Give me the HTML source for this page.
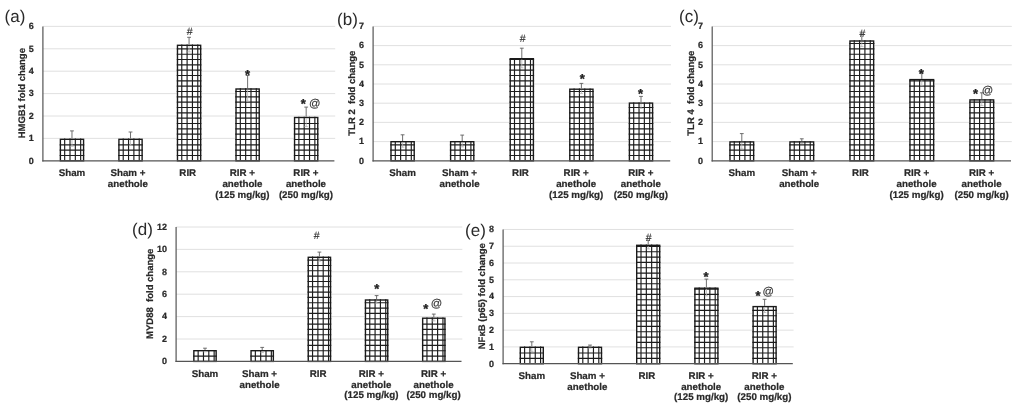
<!DOCTYPE html>
<html><head><meta charset="utf-8"><title>Figure</title>
<style>
html,body{margin:0;padding:0;background:#fff}
svg{display:block}
text{text-rendering:geometricPrecision}
.t,.k,.y{stroke:#2a2a2a;stroke-width:0.22px}
.st{stroke:#222;stroke-width:0.35px}
.s,.at{stroke:#333;stroke-width:0.15px}
.t{font-family:"Liberation Sans",sans-serif;font-weight:bold;font-size:9.75px;fill:#2a2a2a}
.k{font-family:"Liberation Sans",sans-serif;font-weight:bold;font-size:9.0px;fill:#2a2a2a}
.y{font-family:"Liberation Sans",sans-serif;font-weight:bold;font-size:9.5px;fill:#2a2a2a}
.s{font-family:"Liberation Sans",sans-serif;font-size:10.5px;fill:#333}
.at{font-family:"Liberation Sans",sans-serif;font-size:11.3px;fill:#333}
.st{font-family:"Liberation Sans",sans-serif;font-weight:bold;font-size:13px;fill:#222}
.p{font-family:"Liberation Sans",sans-serif;font-size:17px;fill:#2a2a2a}
</style></head><body>
<svg width="1025" height="414" viewBox="0 0 1025 414">
<rect width="1025" height="414" fill="#fff"/>
<g id="chart-a">
<line x1="42.9" x2="335.2" y1="138.40" y2="138.40" stroke="#dcdcdc" stroke-width="0.9"/>
<line x1="42.9" x2="335.2" y1="116.00" y2="116.00" stroke="#dcdcdc" stroke-width="0.9"/>
<line x1="42.9" x2="335.2" y1="93.60" y2="93.60" stroke="#dcdcdc" stroke-width="0.9"/>
<line x1="42.9" x2="335.2" y1="71.20" y2="71.20" stroke="#dcdcdc" stroke-width="0.9"/>
<line x1="42.9" x2="335.2" y1="48.80" y2="48.80" stroke="#dcdcdc" stroke-width="0.9"/>
<line x1="42.9" x2="335.2" y1="26.40" y2="26.40" stroke="#dcdcdc" stroke-width="0.9"/>
<text x="33.8" y="163.60" text-anchor="end" class="k">0</text>
<text x="33.8" y="141.20" text-anchor="end" class="k">1</text>
<text x="33.8" y="118.80" text-anchor="end" class="k">2</text>
<text x="33.8" y="96.40" text-anchor="end" class="k">3</text>
<text x="33.8" y="74.00" text-anchor="end" class="k">4</text>
<text x="33.8" y="51.60" text-anchor="end" class="k">5</text>
<text x="33.8" y="29.20" text-anchor="end" class="k">6</text>
<rect x="59.67" y="138.60" width="24.60" height="22.20" fill="#fff"/>
<path d="M64.67 138.60V160.80M70.00 138.60V160.80M75.33 138.60V160.80M80.66 138.60V160.80M59.67 155.47H84.28M59.67 150.14H84.28M59.67 144.81H84.28" stroke="#1c1c1c" stroke-width="1.15" fill="none"/>
<rect x="60.38" y="139.30" width="23.20" height="21.50" fill="none" stroke="#1a1a1a" stroke-width="1.4"/>
<path d="M71.97 130.90V138.60M70.07 130.90H73.88" stroke="#606060" stroke-width="0.9" fill="none"/>
<path d="M71.97 140.00V146.30M70.27 146.30H73.67" stroke="#b5b5b5" stroke-width="0.8" fill="none"/>
<rect x="118.22" y="138.60" width="24.60" height="22.20" fill="#fff"/>
<path d="M123.22 138.60V160.80M128.55 138.60V160.80M133.88 138.60V160.80M139.22 138.60V160.80M118.22 155.47H142.82M118.22 150.14H142.82M118.22 144.81H142.82" stroke="#1c1c1c" stroke-width="1.15" fill="none"/>
<rect x="118.92" y="139.30" width="23.20" height="21.50" fill="none" stroke="#1a1a1a" stroke-width="1.4"/>
<path d="M130.52 132.00V138.60M128.62 132.00H132.42" stroke="#606060" stroke-width="0.9" fill="none"/>
<path d="M130.52 140.00V145.20M128.82 145.20H132.22" stroke="#b5b5b5" stroke-width="0.8" fill="none"/>
<rect x="176.77" y="44.60" width="24.60" height="116.20" fill="#fff"/>
<path d="M181.77 44.60V160.80M187.10 44.60V160.80M192.44 44.60V160.80M197.77 44.60V160.80M176.77 155.47H201.37M176.77 150.14H201.37M176.77 144.81H201.37M176.77 139.48H201.37M176.77 134.15H201.37M176.77 128.82H201.37M176.77 123.49H201.37M176.77 118.16H201.37M176.77 112.83H201.37M176.77 107.50H201.37M176.77 102.17H201.37M176.77 96.84H201.37M176.77 91.51H201.37M176.77 86.18H201.37M176.77 80.85H201.37M176.77 75.52H201.37M176.77 70.19H201.37M176.77 64.86H201.37M176.77 59.53H201.37M176.77 54.20H201.37M176.77 48.87H201.37" stroke="#1c1c1c" stroke-width="1.15" fill="none"/>
<rect x="177.47" y="45.30" width="23.20" height="115.50" fill="none" stroke="#1a1a1a" stroke-width="1.4"/>
<path d="M189.07 37.30V44.60M187.17 37.30H190.97" stroke="#606060" stroke-width="0.9" fill="none"/>
<path d="M189.07 46.00V51.90M187.38 51.90H190.77" stroke="#b5b5b5" stroke-width="0.8" fill="none"/>
<rect x="235.32" y="88.30" width="24.60" height="72.50" fill="#fff"/>
<path d="M240.32 88.30V160.80M245.66 88.30V160.80M250.99 88.30V160.80M256.31 88.30V160.80M235.32 155.47H259.93M235.32 150.14H259.93M235.32 144.81H259.93M235.32 139.48H259.93M235.32 134.15H259.93M235.32 128.82H259.93M235.32 123.49H259.93M235.32 118.16H259.93M235.32 112.83H259.93M235.32 107.50H259.93M235.32 102.17H259.93M235.32 96.84H259.93M235.32 91.51H259.93" stroke="#1c1c1c" stroke-width="1.15" fill="none"/>
<rect x="236.02" y="89.00" width="23.20" height="71.80" fill="none" stroke="#1a1a1a" stroke-width="1.4"/>
<path d="M247.62 75.50V88.30M245.72 75.50H249.53" stroke="#606060" stroke-width="0.9" fill="none"/>
<path d="M247.62 89.70V101.10M245.93 101.10H249.32" stroke="#b5b5b5" stroke-width="0.8" fill="none"/>
<rect x="293.87" y="116.80" width="24.60" height="44.00" fill="#fff"/>
<path d="M298.87 116.80V160.80M304.20 116.80V160.80M309.53 116.80V160.80M314.86 116.80V160.80M293.87 155.47H318.47M293.87 150.14H318.47M293.87 144.81H318.47M293.87 139.48H318.47M293.87 134.15H318.47M293.87 128.82H318.47M293.87 123.49H318.47" stroke="#1c1c1c" stroke-width="1.15" fill="none"/>
<rect x="294.57" y="117.50" width="23.20" height="43.30" fill="none" stroke="#1a1a1a" stroke-width="1.4"/>
<path d="M306.17 107.10V116.80M304.27 107.10H308.07" stroke="#606060" stroke-width="0.9" fill="none"/>
<path d="M306.17 118.20V126.50M304.47 126.50H307.87" stroke="#b5b5b5" stroke-width="0.8" fill="none"/>
<text x="189.60" y="34.90" text-anchor="middle" class="s">#</text>
<text x="247.55" y="78.65" text-anchor="middle" class="st">*</text>
<text x="303.40" y="108.05" text-anchor="middle" class="st">*</text>
<text x="314.70" y="106.90" text-anchor="middle" class="at">@</text>
<line x1="42.9" x2="42.9" y1="26.40" y2="161.40" stroke="#555555" stroke-width="1.2"/>
<line x1="42.3" x2="334.4" y1="160.80" y2="160.80" stroke="#555555" stroke-width="1.2"/>
<text x="71.97" y="175.90" text-anchor="middle" class="t">Sham</text>
<text x="127.92" y="175.90" text-anchor="middle" class="t">Sham +</text>
<text x="127.92" y="187.40" text-anchor="middle" class="t">anethole</text>
<text x="187.77" y="175.90" text-anchor="middle" class="t">RIR</text>
<text x="242.43" y="175.90" text-anchor="middle" class="t">RIR +</text>
<text x="242.43" y="187.40" text-anchor="middle" class="t">anethole</text>
<text x="242.43" y="197.50" text-anchor="middle" class="t">(125 mg/kg)</text>
<text x="305.97" y="175.90" text-anchor="middle" class="t">RIR +</text>
<text x="305.97" y="187.40" text-anchor="middle" class="t">anethole</text>
<text x="305.97" y="197.50" text-anchor="middle" class="t">(250 mg/kg)</text>
<text transform="translate(25.2 93.2) rotate(-90)" text-anchor="middle" class="y" xml:space="preserve">HMGB1 fold change</text>
<text x="4.60" y="22.00" class="p">(a)</text>
</g>
<g id="chart-b">
<line x1="373.1" x2="671.0" y1="141.60" y2="141.60" stroke="#dcdcdc" stroke-width="0.9"/>
<line x1="373.1" x2="671.0" y1="122.40" y2="122.40" stroke="#dcdcdc" stroke-width="0.9"/>
<line x1="373.1" x2="671.0" y1="103.20" y2="103.20" stroke="#dcdcdc" stroke-width="0.9"/>
<line x1="373.1" x2="671.0" y1="84.00" y2="84.00" stroke="#dcdcdc" stroke-width="0.9"/>
<line x1="373.1" x2="671.0" y1="64.80" y2="64.80" stroke="#dcdcdc" stroke-width="0.9"/>
<line x1="373.1" x2="671.0" y1="45.60" y2="45.60" stroke="#dcdcdc" stroke-width="0.9"/>
<line x1="373.1" x2="671.0" y1="26.40" y2="26.40" stroke="#dcdcdc" stroke-width="0.9"/>
<text x="364.0" y="163.60" text-anchor="end" class="k">0</text>
<text x="364.0" y="144.40" text-anchor="end" class="k">1</text>
<text x="364.0" y="125.20" text-anchor="end" class="k">2</text>
<text x="364.0" y="106.00" text-anchor="end" class="k">3</text>
<text x="364.0" y="86.80" text-anchor="end" class="k">4</text>
<text x="364.0" y="67.60" text-anchor="end" class="k">5</text>
<text x="364.0" y="48.40" text-anchor="end" class="k">6</text>
<text x="364.0" y="29.20" text-anchor="end" class="k">7</text>
<rect x="390.30" y="141.00" width="24.60" height="19.80" fill="#fff"/>
<path d="M395.30 141.00V160.80M400.63 141.00V160.80M405.96 141.00V160.80M411.29 141.00V160.80M390.30 155.47H414.90M390.30 150.14H414.90M390.30 144.81H414.90" stroke="#1c1c1c" stroke-width="1.15" fill="none"/>
<rect x="391.00" y="141.70" width="23.20" height="19.10" fill="none" stroke="#1a1a1a" stroke-width="1.4"/>
<path d="M402.60 134.80V141.00M400.70 134.80H404.50" stroke="#606060" stroke-width="0.9" fill="none"/>
<path d="M402.60 142.40V147.20M400.90 147.20H404.30" stroke="#b5b5b5" stroke-width="0.8" fill="none"/>
<rect x="449.90" y="141.00" width="24.60" height="19.80" fill="#fff"/>
<path d="M454.90 141.00V160.80M460.23 141.00V160.80M465.56 141.00V160.80M470.89 141.00V160.80M449.90 155.47H474.50M449.90 150.14H474.50M449.90 144.81H474.50" stroke="#1c1c1c" stroke-width="1.15" fill="none"/>
<rect x="450.60" y="141.70" width="23.20" height="19.10" fill="none" stroke="#1a1a1a" stroke-width="1.4"/>
<path d="M462.20 135.10V141.00M460.30 135.10H464.10" stroke="#606060" stroke-width="0.9" fill="none"/>
<path d="M462.20 142.40V146.90M460.50 146.90H463.90" stroke="#b5b5b5" stroke-width="0.8" fill="none"/>
<rect x="509.50" y="58.00" width="24.60" height="102.80" fill="#fff"/>
<path d="M514.50 58.00V160.80M519.83 58.00V160.80M525.16 58.00V160.80M530.49 58.00V160.80M509.50 155.47H534.10M509.50 150.14H534.10M509.50 144.81H534.10M509.50 139.48H534.10M509.50 134.15H534.10M509.50 128.82H534.10M509.50 123.49H534.10M509.50 118.16H534.10M509.50 112.83H534.10M509.50 107.50H534.10M509.50 102.17H534.10M509.50 96.84H534.10M509.50 91.51H534.10M509.50 86.18H534.10M509.50 80.85H534.10M509.50 75.52H534.10M509.50 70.19H534.10M509.50 64.86H534.10M509.50 59.53H534.10" stroke="#1c1c1c" stroke-width="1.15" fill="none"/>
<rect x="510.20" y="58.70" width="23.20" height="102.10" fill="none" stroke="#1a1a1a" stroke-width="1.4"/>
<path d="M521.80 48.20V58.00M519.90 48.20H523.70" stroke="#606060" stroke-width="0.9" fill="none"/>
<path d="M521.80 59.40V67.80M520.10 67.80H523.50" stroke="#b5b5b5" stroke-width="0.8" fill="none"/>
<rect x="569.10" y="88.50" width="24.60" height="72.30" fill="#fff"/>
<path d="M574.10 88.50V160.80M579.43 88.50V160.80M584.76 88.50V160.80M590.09 88.50V160.80M569.10 155.47H593.70M569.10 150.14H593.70M569.10 144.81H593.70M569.10 139.48H593.70M569.10 134.15H593.70M569.10 128.82H593.70M569.10 123.49H593.70M569.10 118.16H593.70M569.10 112.83H593.70M569.10 107.50H593.70M569.10 102.17H593.70M569.10 96.84H593.70M569.10 91.51H593.70" stroke="#1c1c1c" stroke-width="1.15" fill="none"/>
<rect x="569.80" y="89.20" width="23.20" height="71.60" fill="none" stroke="#1a1a1a" stroke-width="1.4"/>
<path d="M581.40 83.40V88.50M579.50 83.40H583.30" stroke="#606060" stroke-width="0.9" fill="none"/>
<path d="M581.40 89.90V93.60M579.70 93.60H583.10" stroke="#b5b5b5" stroke-width="0.8" fill="none"/>
<rect x="628.70" y="102.40" width="24.60" height="58.40" fill="#fff"/>
<path d="M633.70 102.40V160.80M639.03 102.40V160.80M644.36 102.40V160.80M649.69 102.40V160.80M628.70 155.47H653.30M628.70 150.14H653.30M628.70 144.81H653.30M628.70 139.48H653.30M628.70 134.15H653.30M628.70 128.82H653.30M628.70 123.49H653.30M628.70 118.16H653.30M628.70 112.83H653.30M628.70 107.50H653.30" stroke="#1c1c1c" stroke-width="1.15" fill="none"/>
<rect x="629.40" y="103.10" width="23.20" height="57.70" fill="none" stroke="#1a1a1a" stroke-width="1.4"/>
<path d="M641.00 96.40V102.40M639.10 96.40H642.90" stroke="#606060" stroke-width="0.9" fill="none"/>
<path d="M641.00 103.80V108.40M639.30 108.40H642.70" stroke="#b5b5b5" stroke-width="0.8" fill="none"/>
<text x="522.75" y="41.85" text-anchor="middle" class="s">#</text>
<text x="582.30" y="83.05" text-anchor="middle" class="st">*</text>
<text x="640.50" y="97.65" text-anchor="middle" class="st">*</text>
<line x1="373.1" x2="373.1" y1="26.40" y2="161.40" stroke="#555555" stroke-width="1.2"/>
<line x1="372.5" x2="670.2" y1="160.80" y2="160.80" stroke="#555555" stroke-width="1.2"/>
<text x="402.60" y="175.90" text-anchor="middle" class="t">Sham</text>
<text x="459.60" y="175.90" text-anchor="middle" class="t">Sham +</text>
<text x="459.60" y="187.40" text-anchor="middle" class="t">anethole</text>
<text x="520.50" y="175.90" text-anchor="middle" class="t">RIR</text>
<text x="576.20" y="175.90" text-anchor="middle" class="t">RIR +</text>
<text x="576.20" y="187.40" text-anchor="middle" class="t">anethole</text>
<text x="576.20" y="197.50" text-anchor="middle" class="t">(125 mg/kg)</text>
<text x="640.80" y="175.90" text-anchor="middle" class="t">RIR +</text>
<text x="640.80" y="187.40" text-anchor="middle" class="t">anethole</text>
<text x="640.80" y="197.50" text-anchor="middle" class="t">(250 mg/kg)</text>
<text transform="translate(355.3 93.2) rotate(-90)" text-anchor="middle" class="y" xml:space="preserve">TLR 2  fold change</text>
<text x="337.10" y="25.00" class="p">(b)</text>
</g>
<g id="chart-c">
<line x1="712.2" x2="1011.8" y1="141.60" y2="141.60" stroke="#dcdcdc" stroke-width="0.9"/>
<line x1="712.2" x2="1011.8" y1="122.40" y2="122.40" stroke="#dcdcdc" stroke-width="0.9"/>
<line x1="712.2" x2="1011.8" y1="103.20" y2="103.20" stroke="#dcdcdc" stroke-width="0.9"/>
<line x1="712.2" x2="1011.8" y1="84.00" y2="84.00" stroke="#dcdcdc" stroke-width="0.9"/>
<line x1="712.2" x2="1011.8" y1="64.80" y2="64.80" stroke="#dcdcdc" stroke-width="0.9"/>
<line x1="712.2" x2="1011.8" y1="45.60" y2="45.60" stroke="#dcdcdc" stroke-width="0.9"/>
<line x1="712.2" x2="1011.8" y1="26.40" y2="26.40" stroke="#dcdcdc" stroke-width="0.9"/>
<text x="703.1" y="163.60" text-anchor="end" class="k">0</text>
<text x="703.1" y="144.40" text-anchor="end" class="k">1</text>
<text x="703.1" y="125.20" text-anchor="end" class="k">2</text>
<text x="703.1" y="106.00" text-anchor="end" class="k">3</text>
<text x="703.1" y="86.80" text-anchor="end" class="k">4</text>
<text x="703.1" y="67.60" text-anchor="end" class="k">5</text>
<text x="703.1" y="48.40" text-anchor="end" class="k">6</text>
<text x="703.1" y="29.20" text-anchor="end" class="k">7</text>
<rect x="729.25" y="141.20" width="25.10" height="19.60" fill="#fff"/>
<path d="M734.25 141.20V160.80M739.58 141.20V160.80M744.91 141.20V160.80M750.24 141.20V160.80M729.25 155.47H754.35M729.25 150.14H754.35M729.25 144.81H754.35" stroke="#1c1c1c" stroke-width="1.15" fill="none"/>
<rect x="729.95" y="141.90" width="23.70" height="18.90" fill="none" stroke="#1a1a1a" stroke-width="1.4"/>
<path d="M741.80 133.60V141.20M739.90 133.60H743.70" stroke="#606060" stroke-width="0.9" fill="none"/>
<path d="M741.80 142.60V148.80M740.10 148.80H743.50" stroke="#b5b5b5" stroke-width="0.8" fill="none"/>
<rect x="789.25" y="141.20" width="25.10" height="19.60" fill="#fff"/>
<path d="M794.25 141.20V160.80M799.58 141.20V160.80M804.91 141.20V160.80M810.24 141.20V160.80M789.25 155.47H814.35M789.25 150.14H814.35M789.25 144.81H814.35" stroke="#1c1c1c" stroke-width="1.15" fill="none"/>
<rect x="789.95" y="141.90" width="23.70" height="18.90" fill="none" stroke="#1a1a1a" stroke-width="1.4"/>
<path d="M801.80 138.80V141.20M799.90 138.80H803.70" stroke="#606060" stroke-width="0.9" fill="none"/>
<path d="M801.80 142.60V143.60M800.10 143.60H803.50" stroke="#b5b5b5" stroke-width="0.8" fill="none"/>
<rect x="849.25" y="40.30" width="25.10" height="120.50" fill="#fff"/>
<path d="M854.25 40.30V160.80M859.58 40.30V160.80M864.91 40.30V160.80M870.24 40.30V160.80M849.25 155.47H874.35M849.25 150.14H874.35M849.25 144.81H874.35M849.25 139.48H874.35M849.25 134.15H874.35M849.25 128.82H874.35M849.25 123.49H874.35M849.25 118.16H874.35M849.25 112.83H874.35M849.25 107.50H874.35M849.25 102.17H874.35M849.25 96.84H874.35M849.25 91.51H874.35M849.25 86.18H874.35M849.25 80.85H874.35M849.25 75.52H874.35M849.25 70.19H874.35M849.25 64.86H874.35M849.25 59.53H874.35M849.25 54.20H874.35M849.25 48.87H874.35M849.25 43.54H874.35" stroke="#1c1c1c" stroke-width="1.15" fill="none"/>
<rect x="849.95" y="41.00" width="23.70" height="119.80" fill="none" stroke="#1a1a1a" stroke-width="1.4"/>
<path d="M861.80 34.00V40.30M859.90 34.00H863.70" stroke="#606060" stroke-width="0.9" fill="none"/>
<path d="M861.80 41.70V46.60M860.10 46.60H863.50" stroke="#b5b5b5" stroke-width="0.8" fill="none"/>
<rect x="909.25" y="78.90" width="25.10" height="81.90" fill="#fff"/>
<path d="M914.25 78.90V160.80M919.58 78.90V160.80M924.91 78.90V160.80M930.24 78.90V160.80M909.25 155.47H934.35M909.25 150.14H934.35M909.25 144.81H934.35M909.25 139.48H934.35M909.25 134.15H934.35M909.25 128.82H934.35M909.25 123.49H934.35M909.25 118.16H934.35M909.25 112.83H934.35M909.25 107.50H934.35M909.25 102.17H934.35M909.25 96.84H934.35M909.25 91.51H934.35M909.25 86.18H934.35M909.25 80.85H934.35" stroke="#1c1c1c" stroke-width="1.15" fill="none"/>
<rect x="909.95" y="79.60" width="23.70" height="81.20" fill="none" stroke="#1a1a1a" stroke-width="1.4"/>
<path d="M921.80 72.00V78.90M919.90 72.00H923.70" stroke="#606060" stroke-width="0.9" fill="none"/>
<path d="M921.80 80.30V85.80M920.10 85.80H923.50" stroke="#b5b5b5" stroke-width="0.8" fill="none"/>
<rect x="969.25" y="99.20" width="25.10" height="61.60" fill="#fff"/>
<path d="M974.25 99.20V160.80M979.58 99.20V160.80M984.91 99.20V160.80M990.24 99.20V160.80M969.25 155.47H994.35M969.25 150.14H994.35M969.25 144.81H994.35M969.25 139.48H994.35M969.25 134.15H994.35M969.25 128.82H994.35M969.25 123.49H994.35M969.25 118.16H994.35M969.25 112.83H994.35M969.25 107.50H994.35M969.25 102.17H994.35" stroke="#1c1c1c" stroke-width="1.15" fill="none"/>
<rect x="969.95" y="99.90" width="23.70" height="60.90" fill="none" stroke="#1a1a1a" stroke-width="1.4"/>
<path d="M981.80 92.80V99.20M979.90 92.80H983.70" stroke="#606060" stroke-width="0.9" fill="none"/>
<path d="M981.80 100.60V105.60M980.10 105.60H983.50" stroke="#b5b5b5" stroke-width="0.8" fill="none"/>
<text x="862.50" y="37.40" text-anchor="middle" class="s">#</text>
<text x="921.20" y="78.25" text-anchor="middle" class="st">*</text>
<text x="975.50" y="97.65" text-anchor="middle" class="st">*</text>
<text x="987.40" y="93.90" text-anchor="middle" class="at">@</text>
<line x1="712.2" x2="712.2" y1="26.40" y2="161.40" stroke="#555555" stroke-width="1.2"/>
<line x1="711.6" x2="1011.0" y1="160.80" y2="160.80" stroke="#555555" stroke-width="1.2"/>
<text x="741.80" y="175.90" text-anchor="middle" class="t">Sham</text>
<text x="799.20" y="175.90" text-anchor="middle" class="t">Sham +</text>
<text x="799.20" y="187.40" text-anchor="middle" class="t">anethole</text>
<text x="860.50" y="175.90" text-anchor="middle" class="t">RIR</text>
<text x="916.60" y="175.90" text-anchor="middle" class="t">RIR +</text>
<text x="916.60" y="187.40" text-anchor="middle" class="t">anethole</text>
<text x="916.60" y="197.50" text-anchor="middle" class="t">(125 mg/kg)</text>
<text x="981.60" y="175.90" text-anchor="middle" class="t">RIR +</text>
<text x="981.60" y="187.40" text-anchor="middle" class="t">anethole</text>
<text x="981.60" y="197.50" text-anchor="middle" class="t">(250 mg/kg)</text>
<text transform="translate(694 93.2) rotate(-90)" text-anchor="middle" class="y" xml:space="preserve">TLR 4  fold change</text>
<text x="679.10" y="22.40" class="p">(c)</text>
</g>
<g id="chart-d">
<line x1="176.1" x2="462.3" y1="339.00" y2="339.00" stroke="#dcdcdc" stroke-width="0.9"/>
<line x1="176.1" x2="462.3" y1="316.60" y2="316.60" stroke="#dcdcdc" stroke-width="0.9"/>
<line x1="176.1" x2="462.3" y1="294.20" y2="294.20" stroke="#dcdcdc" stroke-width="0.9"/>
<line x1="176.1" x2="462.3" y1="271.80" y2="271.80" stroke="#dcdcdc" stroke-width="0.9"/>
<line x1="176.1" x2="462.3" y1="249.40" y2="249.40" stroke="#dcdcdc" stroke-width="0.9"/>
<line x1="176.1" x2="462.3" y1="227.00" y2="227.00" stroke="#dcdcdc" stroke-width="0.9"/>
<text x="167.0" y="364.20" text-anchor="end" class="k">0</text>
<text x="167.0" y="341.80" text-anchor="end" class="k">2</text>
<text x="167.0" y="319.40" text-anchor="end" class="k">4</text>
<text x="167.0" y="297.00" text-anchor="end" class="k">6</text>
<text x="167.0" y="274.60" text-anchor="end" class="k">8</text>
<text x="167.0" y="252.20" text-anchor="end" class="k">10</text>
<text x="167.0" y="229.80" text-anchor="end" class="k">12</text>
<rect x="193.15" y="350.00" width="23.70" height="11.40" fill="#fff"/>
<path d="M198.15 350.00V361.40M203.48 350.00V361.40M208.81 350.00V361.40M214.14 350.00V361.40M193.15 356.07H216.85" stroke="#1c1c1c" stroke-width="1.15" fill="none"/>
<rect x="193.85" y="350.70" width="22.30" height="10.70" fill="none" stroke="#1a1a1a" stroke-width="1.4"/>
<path d="M205.00 348.20V350.00M203.10 348.20H206.90" stroke="#606060" stroke-width="0.9" fill="none"/>
<path d="M205.00 351.40V351.80M203.30 351.80H206.70" stroke="#b5b5b5" stroke-width="0.8" fill="none"/>
<rect x="250.35" y="350.00" width="23.70" height="11.40" fill="#fff"/>
<path d="M255.35 350.00V361.40M260.68 350.00V361.40M266.01 350.00V361.40M271.34 350.00V361.40M250.35 356.07H274.05" stroke="#1c1c1c" stroke-width="1.15" fill="none"/>
<rect x="251.05" y="350.70" width="22.30" height="10.70" fill="none" stroke="#1a1a1a" stroke-width="1.4"/>
<path d="M262.20 347.40V350.00M260.30 347.40H264.10" stroke="#606060" stroke-width="0.9" fill="none"/>
<path d="M262.20 351.40V352.60M260.50 352.60H263.90" stroke="#b5b5b5" stroke-width="0.8" fill="none"/>
<rect x="307.55" y="256.60" width="23.70" height="104.80" fill="#fff"/>
<path d="M312.55 256.60V361.40M317.88 256.60V361.40M323.21 256.60V361.40M328.54 256.60V361.40M307.55 356.07H331.25M307.55 350.74H331.25M307.55 345.41H331.25M307.55 340.08H331.25M307.55 334.75H331.25M307.55 329.42H331.25M307.55 324.09H331.25M307.55 318.76H331.25M307.55 313.43H331.25M307.55 308.10H331.25M307.55 302.77H331.25M307.55 297.44H331.25M307.55 292.11H331.25M307.55 286.78H331.25M307.55 281.45H331.25M307.55 276.12H331.25M307.55 270.79H331.25M307.55 265.46H331.25M307.55 260.13H331.25" stroke="#1c1c1c" stroke-width="1.15" fill="none"/>
<rect x="308.25" y="257.30" width="22.30" height="104.10" fill="none" stroke="#1a1a1a" stroke-width="1.4"/>
<path d="M319.40 252.10V256.60M317.50 252.10H321.30" stroke="#606060" stroke-width="0.9" fill="none"/>
<path d="M319.40 258.00V261.10M317.70 261.10H321.10" stroke="#b5b5b5" stroke-width="0.8" fill="none"/>
<rect x="364.75" y="299.30" width="23.70" height="62.10" fill="#fff"/>
<path d="M369.75 299.30V361.40M375.08 299.30V361.40M380.41 299.30V361.40M385.74 299.30V361.40M364.75 356.07H388.45M364.75 350.74H388.45M364.75 345.41H388.45M364.75 340.08H388.45M364.75 334.75H388.45M364.75 329.42H388.45M364.75 324.09H388.45M364.75 318.76H388.45M364.75 313.43H388.45M364.75 308.10H388.45M364.75 302.77H388.45" stroke="#1c1c1c" stroke-width="1.15" fill="none"/>
<rect x="365.45" y="300.00" width="22.30" height="61.40" fill="none" stroke="#1a1a1a" stroke-width="1.4"/>
<path d="M376.60 295.60V299.30M374.70 295.60H378.50" stroke="#606060" stroke-width="0.9" fill="none"/>
<path d="M376.60 300.70V303.00M374.90 303.00H378.30" stroke="#b5b5b5" stroke-width="0.8" fill="none"/>
<rect x="421.95" y="317.50" width="23.70" height="43.90" fill="#fff"/>
<path d="M426.95 317.50V361.40M432.28 317.50V361.40M437.61 317.50V361.40M442.94 317.50V361.40M421.95 356.07H445.65M421.95 350.74H445.65M421.95 345.41H445.65M421.95 340.08H445.65M421.95 334.75H445.65M421.95 329.42H445.65M421.95 324.09H445.65" stroke="#1c1c1c" stroke-width="1.15" fill="none"/>
<rect x="422.65" y="318.20" width="22.30" height="43.20" fill="none" stroke="#1a1a1a" stroke-width="1.4"/>
<path d="M433.80 314.10V317.50M431.90 314.10H435.70" stroke="#606060" stroke-width="0.9" fill="none"/>
<path d="M433.80 318.90V320.90M432.10 320.90H435.50" stroke="#b5b5b5" stroke-width="0.8" fill="none"/>
<text x="316.70" y="239.00" text-anchor="middle" class="s">#</text>
<text x="376.80" y="293.15" text-anchor="middle" class="st">*</text>
<text x="425.80" y="312.75" text-anchor="middle" class="st">*</text>
<text x="436.60" y="307.40" text-anchor="middle" class="at">@</text>
<line x1="176.1" x2="176.1" y1="227.00" y2="362.00" stroke="#555555" stroke-width="1.2"/>
<line x1="175.5" x2="461.5" y1="361.40" y2="361.40" stroke="#555555" stroke-width="1.2"/>
<text x="205.00" y="376.50" text-anchor="middle" class="t">Sham</text>
<text x="259.60" y="376.50" text-anchor="middle" class="t">Sham +</text>
<text x="259.60" y="388.00" text-anchor="middle" class="t">anethole</text>
<text x="318.10" y="376.50" text-anchor="middle" class="t">RIR</text>
<text x="371.40" y="376.50" text-anchor="middle" class="t">RIR +</text>
<text x="371.40" y="388.00" text-anchor="middle" class="t">anethole</text>
<text x="371.40" y="398.10" text-anchor="middle" class="t">(125 mg/kg)</text>
<text x="433.60" y="376.50" text-anchor="middle" class="t">RIR +</text>
<text x="433.60" y="388.00" text-anchor="middle" class="t">anethole</text>
<text x="433.60" y="398.10" text-anchor="middle" class="t">(250 mg/kg)</text>
<text transform="translate(152.5 293.8) rotate(-90)" text-anchor="middle" class="y" xml:space="preserve">MYD88  fold change</text>
<text x="132.10" y="235.30" class="p">(d)</text>
</g>
<g id="chart-e">
<line x1="503.1" x2="793.6" y1="346.92" y2="346.92" stroke="#dcdcdc" stroke-width="0.9"/>
<line x1="503.1" x2="793.6" y1="330.14" y2="330.14" stroke="#dcdcdc" stroke-width="0.9"/>
<line x1="503.1" x2="793.6" y1="313.36" y2="313.36" stroke="#dcdcdc" stroke-width="0.9"/>
<line x1="503.1" x2="793.6" y1="296.58" y2="296.58" stroke="#dcdcdc" stroke-width="0.9"/>
<line x1="503.1" x2="793.6" y1="279.80" y2="279.80" stroke="#dcdcdc" stroke-width="0.9"/>
<line x1="503.1" x2="793.6" y1="263.02" y2="263.02" stroke="#dcdcdc" stroke-width="0.9"/>
<line x1="503.1" x2="793.6" y1="246.24" y2="246.24" stroke="#dcdcdc" stroke-width="0.9"/>
<line x1="503.1" x2="793.6" y1="229.46" y2="229.46" stroke="#dcdcdc" stroke-width="0.9"/>
<text x="494.0" y="366.50" text-anchor="end" class="k">0</text>
<text x="494.0" y="349.72" text-anchor="end" class="k">1</text>
<text x="494.0" y="332.94" text-anchor="end" class="k">2</text>
<text x="494.0" y="316.16" text-anchor="end" class="k">3</text>
<text x="494.0" y="299.38" text-anchor="end" class="k">4</text>
<text x="494.0" y="282.60" text-anchor="end" class="k">5</text>
<text x="494.0" y="265.82" text-anchor="end" class="k">6</text>
<text x="494.0" y="249.04" text-anchor="end" class="k">7</text>
<text x="494.0" y="232.26" text-anchor="end" class="k">8</text>
<rect x="519.60" y="346.60" width="24.40" height="17.10" fill="#fff"/>
<path d="M524.60 346.60V363.70M529.93 346.60V363.70M535.26 346.60V363.70M540.59 346.60V363.70M519.60 358.37H544.00M519.60 353.04H544.00" stroke="#1c1c1c" stroke-width="1.15" fill="none"/>
<rect x="520.30" y="347.30" width="23.00" height="16.40" fill="none" stroke="#1a1a1a" stroke-width="1.4"/>
<path d="M531.80 341.80V346.60M529.90 341.80H533.70" stroke="#606060" stroke-width="0.9" fill="none"/>
<path d="M531.80 348.00V351.40M530.10 351.40H533.50" stroke="#b5b5b5" stroke-width="0.8" fill="none"/>
<rect x="577.80" y="346.60" width="24.40" height="17.10" fill="#fff"/>
<path d="M582.80 346.60V363.70M588.13 346.60V363.70M593.46 346.60V363.70M598.79 346.60V363.70M577.80 358.37H602.20M577.80 353.04H602.20" stroke="#1c1c1c" stroke-width="1.15" fill="none"/>
<rect x="578.50" y="347.30" width="23.00" height="16.40" fill="none" stroke="#1a1a1a" stroke-width="1.4"/>
<path d="M590.00 345.10V346.60M588.10 345.10H591.90" stroke="#606060" stroke-width="0.9" fill="none"/>
<path d="M590.00 348.00V348.10M588.30 348.10H591.70" stroke="#b5b5b5" stroke-width="0.8" fill="none"/>
<rect x="636.00" y="244.60" width="24.40" height="119.10" fill="#fff"/>
<path d="M641.00 244.60V363.70M646.33 244.60V363.70M651.66 244.60V363.70M656.99 244.60V363.70M636.00 358.37H660.40M636.00 353.04H660.40M636.00 347.71H660.40M636.00 342.38H660.40M636.00 337.05H660.40M636.00 331.72H660.40M636.00 326.39H660.40M636.00 321.06H660.40M636.00 315.73H660.40M636.00 310.40H660.40M636.00 305.07H660.40M636.00 299.74H660.40M636.00 294.41H660.40M636.00 289.08H660.40M636.00 283.75H660.40M636.00 278.42H660.40M636.00 273.09H660.40M636.00 267.76H660.40M636.00 262.43H660.40M636.00 257.10H660.40M636.00 251.77H660.40M636.00 246.44H660.40" stroke="#1c1c1c" stroke-width="1.15" fill="none"/>
<rect x="636.70" y="245.30" width="23.00" height="118.40" fill="none" stroke="#1a1a1a" stroke-width="1.4"/>
<path d="M648.20 240.30V244.60M646.30 240.30H650.10" stroke="#606060" stroke-width="0.9" fill="none"/>
<path d="M648.20 246.00V248.90M646.50 248.90H649.90" stroke="#b5b5b5" stroke-width="0.8" fill="none"/>
<rect x="694.20" y="287.50" width="24.40" height="76.20" fill="#fff"/>
<path d="M699.20 287.50V363.70M704.53 287.50V363.70M709.86 287.50V363.70M715.19 287.50V363.70M694.20 358.37H718.60M694.20 353.04H718.60M694.20 347.71H718.60M694.20 342.38H718.60M694.20 337.05H718.60M694.20 331.72H718.60M694.20 326.39H718.60M694.20 321.06H718.60M694.20 315.73H718.60M694.20 310.40H718.60M694.20 305.07H718.60M694.20 299.74H718.60M694.20 294.41H718.60M694.20 289.08H718.60" stroke="#1c1c1c" stroke-width="1.15" fill="none"/>
<rect x="694.90" y="288.20" width="23.00" height="75.50" fill="none" stroke="#1a1a1a" stroke-width="1.4"/>
<path d="M706.40 279.10V287.50M704.50 279.10H708.30" stroke="#606060" stroke-width="0.9" fill="none"/>
<path d="M706.40 288.90V295.90M704.70 295.90H708.10" stroke="#b5b5b5" stroke-width="0.8" fill="none"/>
<rect x="752.40" y="305.90" width="24.40" height="57.80" fill="#fff"/>
<path d="M757.40 305.90V363.70M762.73 305.90V363.70M768.06 305.90V363.70M773.39 305.90V363.70M752.40 358.37H776.80M752.40 353.04H776.80M752.40 347.71H776.80M752.40 342.38H776.80M752.40 337.05H776.80M752.40 331.72H776.80M752.40 326.39H776.80M752.40 321.06H776.80M752.40 315.73H776.80M752.40 310.40H776.80" stroke="#1c1c1c" stroke-width="1.15" fill="none"/>
<rect x="753.10" y="306.60" width="23.00" height="57.10" fill="none" stroke="#1a1a1a" stroke-width="1.4"/>
<path d="M764.60 299.30V305.90M762.70 299.30H766.50" stroke="#606060" stroke-width="0.9" fill="none"/>
<path d="M764.60 307.30V312.50M762.90 312.50H766.30" stroke="#b5b5b5" stroke-width="0.8" fill="none"/>
<text x="648.60" y="241.00" text-anchor="middle" class="s">#</text>
<text x="706.10" y="280.85" text-anchor="middle" class="st">*</text>
<text x="758.00" y="299.85" text-anchor="middle" class="st">*</text>
<text x="768.30" y="295.20" text-anchor="middle" class="at">@</text>
<line x1="503.1" x2="503.1" y1="229.46" y2="364.30" stroke="#555555" stroke-width="1.2"/>
<line x1="502.5" x2="792.8" y1="363.70" y2="363.70" stroke="#555555" stroke-width="1.2"/>
<text x="531.80" y="378.80" text-anchor="middle" class="t">Sham</text>
<text x="587.40" y="378.80" text-anchor="middle" class="t">Sham +</text>
<text x="587.40" y="390.30" text-anchor="middle" class="t">anethole</text>
<text x="646.90" y="378.80" text-anchor="middle" class="t">RIR</text>
<text x="701.20" y="378.80" text-anchor="middle" class="t">RIR +</text>
<text x="701.20" y="390.30" text-anchor="middle" class="t">anethole</text>
<text x="701.20" y="400.40" text-anchor="middle" class="t">(125 mg/kg)</text>
<text x="764.40" y="378.80" text-anchor="middle" class="t">RIR +</text>
<text x="764.40" y="390.30" text-anchor="middle" class="t">anethole</text>
<text x="764.40" y="400.40" text-anchor="middle" class="t">(250 mg/kg)</text>
<text transform="translate(485 296.2) rotate(-90)" text-anchor="middle" class="y" xml:space="preserve">NFκB (p65) fold change</text>
<text x="465.10" y="235.50" class="p">(e)</text>
</g>
</svg>
</body></html>
